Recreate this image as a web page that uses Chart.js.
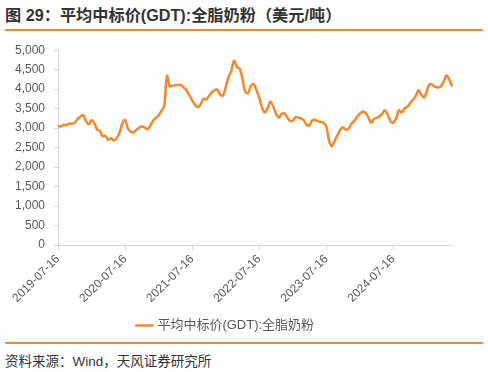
<!DOCTYPE html>
<html>
<head>
<meta charset="utf-8">
<script src="https://cdn.jsdelivr.net/npm/chart.js@4/dist/chart.umd.min.js"></script>
<style>
  html, body { margin:0; padding:0; background:#fff; }
  body { width:488px; height:372px; position:relative; overflow:hidden;
         font-family:"Liberation Sans","Noto Sans CJK SC",sans-serif; }
  #title { position:absolute; left:5px; top:2px; font-size:16.2px; font-weight:bold; color:#333;
           font-family:"Liberation Sans","Noto Sans CJK SC",sans-serif; white-space:nowrap; }
  #topline { position:absolute; left:5px; top:29px; width:478px; height:2px; background:#F08A2C; }
  #botline { position:absolute; left:5px; top:342px; width:478px; height:2px; background:#F08A2C; }
  #source { position:absolute; left:5px; top:350px; font-size:13.5px; color:#333; white-space:nowrap;
            font-family:"Liberation Sans","Noto Sans CJK SC",sans-serif; }
  #wrap { position:absolute; left:0; top:34px; width:488px; height:308px; }
</style>
</head>
<body>
<div id="title">图 29：平均中标价(GDT):全脂奶粉（美元/吨）</div>
<div id="topline"></div>
<div id="wrap"><canvas id="c"></canvas></div>
<div id="botline"></div>
<div id="source">资料来源：Wind，天风证券研究所</div>
<script>
const seriesName = '平均中标价(GDT):全脂奶粉';
const tickLabels = ['2019-07-16','2020-07-16','2021-07-16','2022-07-16','2023-07-16','2024-07-16'];
const wmpPrice = [
  3060,3040,3090,3070,3120,3110,3140,3230,3300,3335,
  3180,3100,3200,3130,2960,2930,2790,2800,2700,2740,
  2680,2750,2880,3120,3210,2990,2910,2890,2950,3010,
  3040,3020,2970,3060,3190,3260,3330,3440,3560,4340,
  4070,4090,4100,4110,4110,4040,3960,3840,3720,3600,
  3540,3600,3750,3740,3820,3920,3970,3985,3860,3830,
  4050,4300,4470,4730,4570,4530,4270,3930,3900,4080,
  4130,3980,3780,3530,3400,3510,3680,3560,3380,3270,
  3360,3380,3280,3190,3190,3280,3270,3250,3200,3080,
  3070,3200,3210,3180,3160,3140,3050,2680,2540,2670,
  2820,2960,3020,2960,2990,3110,3180,3290,3370,3420,
  3400,3280,3140,3230,3260,3300,3370,3460,3340,3170,
  3140,3250,3460,3400,3500,3550,3640,3730,3820,3970,
  3860,3790,3960,4130,4110,4060,4045,4070,4190,4350,
  4250,4070
];
// categories: GDT events roughly twice a month starting 2019-07-16
const categories = [];
(function(){
  let y = 2019, m = 7, half = 1;
  for (let i = 0; i < wmpPrice.length; i++) {
    const mm = String(m).padStart(2,'0');
    categories.push(y + '-' + mm + '-' + (half ? '16' : '01'));
    if (half) { half = 0; m++; if (m > 12) { m = 1; y++; } } else { half = 1; }
  }
})();

const axisColor = '#D9D9D9';
const textColor = '#595959';
const fontFam = '"Liberation Sans","Noto Sans CJK SC",sans-serif';

new Chart(document.getElementById('c'), {
  type: 'line',
  data: {
    labels: categories,
    datasets: [{
      label: seriesName,
      data: wmpPrice,
      borderColor: '#F5882B',
      backgroundColor: '#F5882B',
      borderWidth: 2.5,
      pointRadius: 0,
      tension: 0.35,
      fill: false
    }]
  },
  options: {
    responsive: true,
    maintainAspectRatio: false,
    animation: false,
    layout: { padding: { left: 0, right: 36, top: 4, bottom: 0 } },
    plugins: {
      legend: {
        position: 'bottom',
        labels: {
          usePointStyle: true,
          pointStyle: 'line',
          boxWidth: 27,
          color: textColor,
          font: { size: 13, family: fontFam },
          padding: 8
        }
      },
      tooltip: { enabled: false }
    },
    scales: {
      x: {
        type: 'category',
        offset: false,
        afterBuildTicks: (axis) => {
          axis.ticks = axis.ticks.filter(t => tickLabels.includes(categories[t.value]));
        },
        afterFit: (scale) => { scale.height = 66; },
        ticks: {
          autoSkip: false,
          maxRotation: 45,
          minRotation: 45,
          color: textColor,
          font: { size: 12, family: fontFam },
          padding: 2,
          callback: function(v) { return categories[v]; }
        },
        grid: { drawOnChartArea: false, drawTicks: true, tickLength: 5, color: axisColor },
        border: { color: axisColor, width: 1 }
      },
      y: {
        min: 0,
        max: 5000,
        afterFit: (scale) => { scale.width = 58; },
        ticks: {
          stepSize: 500,
          color: textColor,
          font: { size: 12, family: fontFam },
          padding: 9,
          callback: (v) => v.toLocaleString('en-US')
        },
        grid: { drawOnChartArea: false, drawTicks: true, tickLength: 4, color: axisColor },
        border: { color: axisColor, width: 1 }
      }
    }
  }
});
</script>
</body>
</html>
